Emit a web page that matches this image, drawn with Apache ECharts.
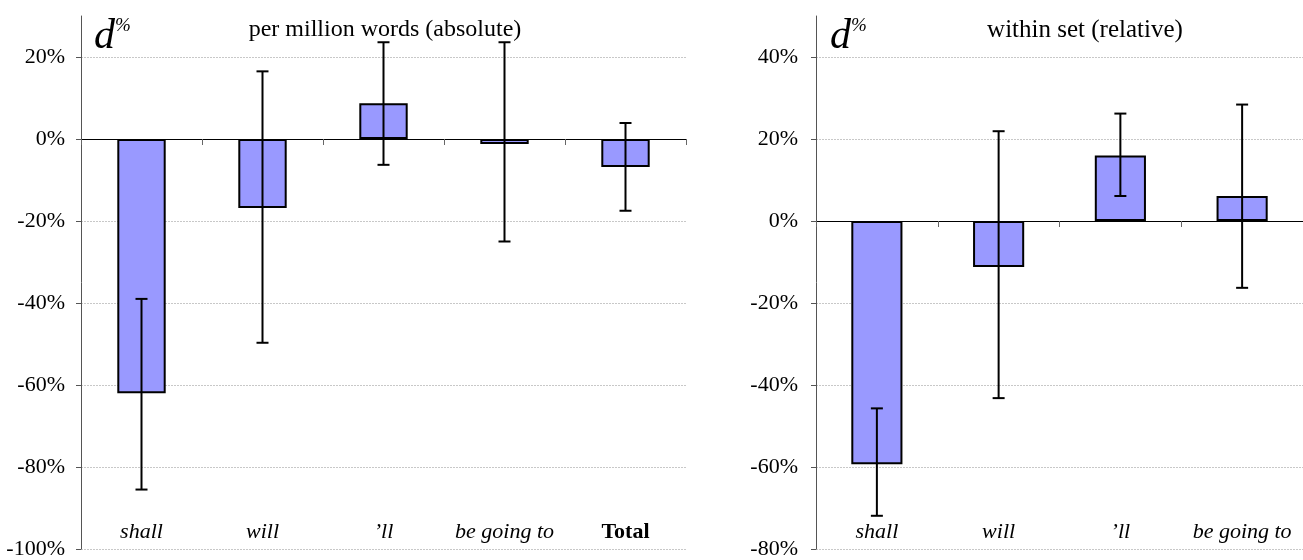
<!DOCTYPE html>
<html>
<head>
<meta charset="utf-8">
<script src="https://cdn.jsdelivr.net/npm/echarts@6/dist/echarts.min.js"></script>
<style>html,body{margin:0;padding:0;background:#fff}#c{width:1303px;height:560px}</style>
</head>
<body>
<div id="c"></div>
<script>
// ---- data ----
const catsAbs = ['shall', 'will', '\u2019ll', 'be going to', 'Total'];
const valsAbs = [-62.0, -16.8, 8.7, -1.2, -6.8];
const errLowAbs = [-85.5, -49.7, -6.3, -25.0, -17.5];
const errHighAbs = [-39.0, 16.5, 23.6, 23.6, 3.9];

const catsRel = ['shall', 'will', '\u2019ll', 'be going to'];
const valsRel = [-59.3, -11.2, 16.0, 6.1];
const errLowRel = [-71.9, -43.2, 6.1, -16.3];
const errHighRel = [-45.7, 21.9, 26.2, 28.4];

const ticksAbs = [-100, -80, -60, -40, -20, 0, 20];
const ticksRel = [-80, -60, -40, -20, 0, 20, 40];

const titleAbs = 'per million words (absolute)';
const titleRel = 'within set (relative)';

// ---- chart ----
const FONT = '"Liberation Serif", "Times New Roman", serif';
const chart = echarts.init(document.getElementById('c'), null, {renderer: 'canvas'});

function errData(lo, hi) { return lo.map((l, i) => [i, l, hi[i]]); }

function errRender(params, api) {
  const i = api.value(0);
  const lo = api.coord([i, api.value(1)]);
  const hi = api.coord([i, api.value(2)]);
  const cap = 6;
  const st = {stroke: '#000', lineWidth: 2};
  return {
    type: 'group',
    children: [
      {type: 'line', shape: {x1: lo[0], y1: lo[1], x2: hi[0], y2: hi[1]}, style: st},
      {type: 'line', shape: {x1: lo[0] - cap, y1: lo[1], x2: lo[0] + cap, y2: lo[1]}, style: st},
      {type: 'line', shape: {x1: hi[0] - cap, y1: hi[1], x2: hi[0] + cap, y2: hi[1]}, style: st}
    ]
  };
}

function yAxis(gridIndex, min, max, ticks, margin) {
  return {
    type: 'value', gridIndex: gridIndex, min: min, max: max, interval: 20,
    axisLine: {show: true, lineStyle: {color: '#555', width: 1}},
    axisTick: {show: true, inside: false, length: 5, lineStyle: {color: '#555'}, customValues: ticks},
    axisLabel: {show: true, fontFamily: FONT, fontSize: 22, color: '#000', margin: margin,
      formatter: v => v + '%', customValues: ticks},
    splitLine: {show: true, lineStyle: {color: '#c8c8c8', width: 1, type: [2, 1]}}
  };
}

function xAxes(gridIndex, cats) {
  return [
    {
      type: 'category', gridIndex: gridIndex, data: cats, boundaryGap: true,
      axisLine: {show: true, onZero: true, lineStyle: {color: '#000', width: 1}},
      axisTick: {show: true, inside: false, length: 6, lineStyle: {color: '#666'}},
      axisLabel: {show: false},
      splitLine: {show: false}
    },
    {
      type: 'category', gridIndex: gridIndex, data: cats, position: 'bottom',
      axisLine: {show: false, onZero: false},
      axisTick: {show: false},
      axisLabel: {
        show: true, inside: true, margin: 6, fontFamily: FONT, fontSize: 22, color: '#000',
        interval: 0,
        formatter: v => v === 'Total' ? '{b|Total}' : '{i|' + v + '}',
        rich: {
          i: {fontFamily: FONT, fontSize: 22, fontStyle: 'italic', color: '#000'},
          b: {fontFamily: FONT, fontSize: 22, fontWeight: 'bold', color: '#000'}
        }
      },
      splitLine: {show: false}
    }
  ];
}

const barStyle = {color: '#9999ff', borderColor: '#000', borderWidth: 2};

const dText = {
  d: {fontFamily: FONT, fontSize: 42, fontStyle: 'italic', fill: '#000', verticalAlign: 'bottom'},
  p: {fontFamily: FONT, fontSize: 19, fontStyle: 'italic', fill: '#000', verticalAlign: 'top', padding: [0, 0, 20, 0]}
};

const option = {
  animation: false,
  backgroundColor: '#fff',
  grid: [
    {left: 81, top: 16, width: 605, height: 535},
    {left: 816, top: 16, width: 497, height: 535}
  ],
  title: [
    {text: titleAbs, left: 380, top: 13, textAlign: 'center',
      textStyle: {fontFamily: FONT, fontSize: 24, fontWeight: 'normal', color: '#000'}},
    {text: titleRel, left: 1080, top: 13, textAlign: 'center',
      textStyle: {fontFamily: FONT, fontSize: 25, fontWeight: 'normal', color: '#000'}}
  ],
  graphic: [
    {type: 'text', left: 94, top: 16, style: {text: '{d|d}{p|%}', rich: dText}},
    {type: 'text', left: 830, top: 16, style: {text: '{d|d}{p|%}', rich: dText}}
  ],
  xAxis: xAxes(0, catsAbs).concat(xAxes(1, catsRel)),
  yAxis: [yAxis(0, -100, 30, ticksAbs, 16), yAxis(1, -80, 50, ticksRel, 18)],
  series: [
    {type: 'bar', xAxisIndex: 0, yAxisIndex: 0, data: valsAbs, barWidth: '40%', itemStyle: barStyle, z: 2},
    {type: 'custom', xAxisIndex: 0, yAxisIndex: 0, data: errData(errLowAbs, errHighAbs),
      renderItem: errRender, encode: {x: 0, y: [1, 2]}, z: 3},
    {type: 'bar', xAxisIndex: 2, yAxisIndex: 1, data: valsRel, barWidth: '42%', itemStyle: barStyle, z: 2},
    {type: 'custom', xAxisIndex: 2, yAxisIndex: 1, data: errData(errLowRel, errHighRel),
      renderItem: errRender, encode: {x: 0, y: [1, 2]}, z: 3}
  ]
};
chart.setOption(option);
</script>
</body>
</html>
